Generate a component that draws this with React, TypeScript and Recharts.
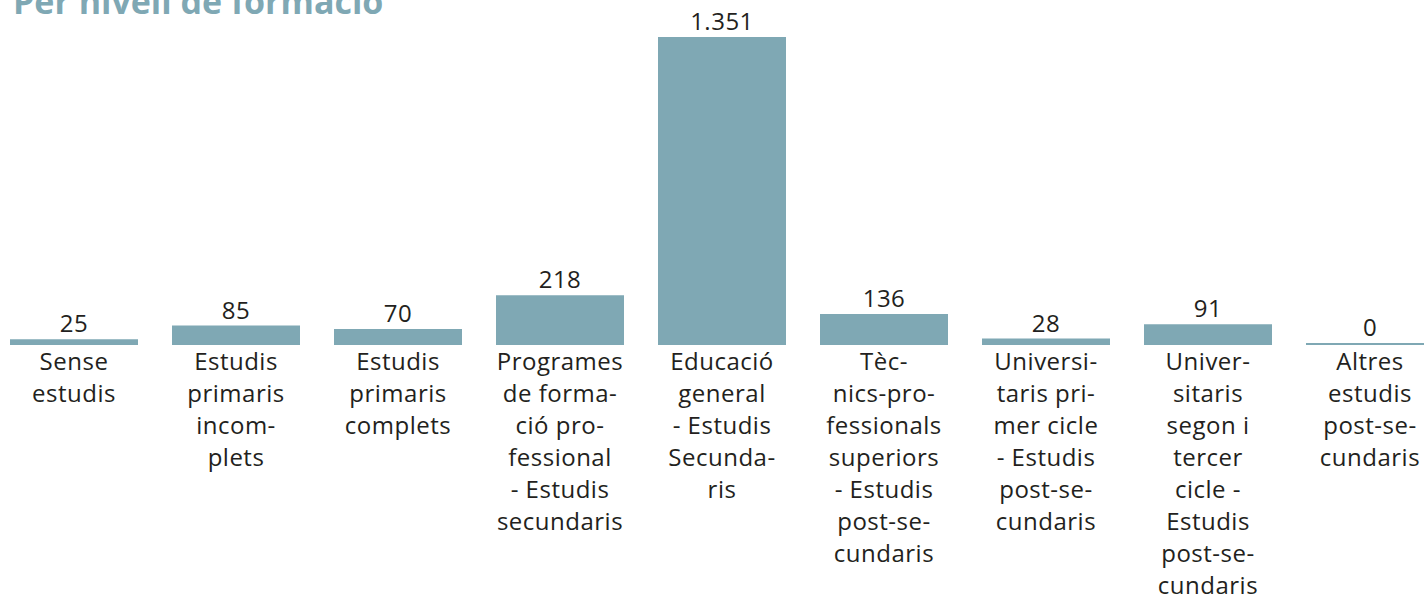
import { Bar, BarChart, LabelList, XAxis, YAxis } from "recharts";

const categories = [
  "Sense estudis",
  "Estudis primaris incomplets",
  "Estudis primaris complets",
  "Programes de formació professional - Estudis secundaris",
  "Educació general - Estudis Secundaris",
  "Tècnics-professionals superiors - Estudis post-secundaris",
  "Universitaris primer cicle - Estudis post-secundaris",
  "Universitaris segon i tercer cicle - Estudis post-secundaris",
  "Altres estudis post-secundaris"
];

const values = [25, 85, 70, 218, 1351, 136, 28, 91, 0];

const tickLines = [
  ["Sense", "estudis"],
  ["Estudis", "primaris", "incom-", "plets"],
  ["Estudis", "primaris", "complets"],
  ["Programes", "de forma-", "ció pro-", "fessional", "- Estudis", "secundaris"],
  ["Educació", "general", "- Estudis", "Secunda-", "ris"],
  ["Tèc-", "nics-pro-", "fessionals", "superiors", "- Estudis", "post-se-", "cundaris"],
  ["Universi-", "taris pri-", "mer cicle", "- Estudis", "post-se-", "cundaris"],
  ["Univer-", "sitaris", "segon i", "tercer", "cicle -", "Estudis", "post-se-", "cundaris"],
  ["Altres", "estudis", "post-se-", "cundaris"]
];

const data = categories.map((name, i) => ({ name, value: values[i], idx: i }));

const BAR = "#7fa8b4";
const FONT = "'Open Sans', 'Noto Sans', sans-serif";

function fmt(v: number) {
  return v.toLocaleString("de-DE");
}

function WrappedTick(props: any) {
  const { x, y, index } = props;
  const lines = tickLines[index] || [];
  return (
    <text x={x} y={y} textAnchor="middle" fill="#231f20" fontSize={24} letterSpacing={0.5} fontFamily={FONT}>
      {lines.map((l, i) => (
        <tspan key={i} x={x} dy={i === 0 ? 25 : 32}>
          {l}
        </tspan>
      ))}
    </text>
  );
}

export default function App() {
  return (
    <div style={{ position: "absolute", left: 0, top: 0, width: 1424, height: 600, overflow: "hidden", background: "#fff" }}>
      <svg width={600} height={40} style={{ position: "absolute", left: 0, top: 0 }}>
        <text x={13} y={14} fill={BAR} fontSize={34} fontWeight={700} fontFamily={FONT}>
          Per nivell de formació
        </text>
      </svg>
      <div style={{ position: "absolute", left: -7, top: 0 }}>
        <BarChart width={1458} height={600} data={data} margin={{ top: 37, right: 0, bottom: 0, left: 0 }}>
          <XAxis
            dataKey="name"
            interval={0}
            axisLine={false}
            tickLine={false}
            tickSize={0}
            tickMargin={0}
            height={255}
            tick={<WrappedTick />}
          />
          <YAxis hide domain={[0, 1351]} />
          <Bar dataKey="value" fill={BAR} barSize={128} minPointSize={2} isAnimationActive={false}>
            <LabelList
              dataKey="value"
              position="top"
              offset={7}
              formatter={(v: any) => fmt(Number(v))}
              fill="#231f20"
              fontSize={24}
              letterSpacing={0.5}
              fontFamily={FONT}
            />
          </Bar>
        </BarChart>
      </div>
    </div>
  );
}
